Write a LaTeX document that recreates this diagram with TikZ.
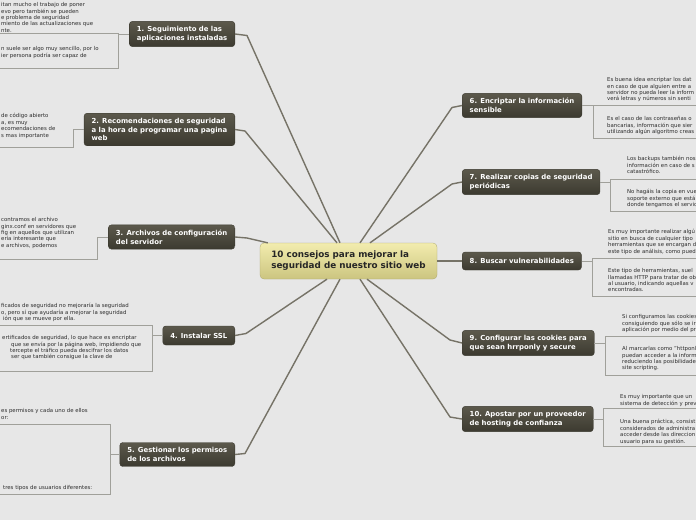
\documentclass[tikz,border=0pt]{standalone}
\usepackage{fontspec}
\setmainfont{DejaVu Sans}
\usetikzlibrary{positioning}
\definecolor{bgc}{RGB}{231,231,231}
\definecolor{topictop}{RGB}{92,89,76}
\definecolor{topicbot}{RGB}{60,58,48}
\definecolor{hubtop}{RGB}{242,236,174}
\definecolor{hubbot}{RGB}{204,197,128}
\definecolor{spokec}{RGB}{118,115,103}
\definecolor{twigc}{RGB}{160,160,154}
\definecolor{notec}{RGB}{45,45,45}

\begin{document}
\begin{tikzpicture}[
    x=1pt, y=-1pt,
    hub/.style={rounded corners=4pt, top color=hubtop, bottom color=hubbot, draw=hubbot!85!black, line width=0.3pt, text=black!85, font=\fontsize{8.8}{11}\selectfont\bfseries, align=left, minimum width=177pt, minimum height=36pt, inner xsep=10pt},
    topic/.style={rounded corners=3pt, top color=topictop, bottom color=topicbot, draw=topicbot, line width=0.4pt, text=white, font=\fontsize{6.9}{8.6}\selectfont\bfseries, align=left, inner xsep=7.5pt, inner ysep=5pt},
    note/.style={anchor=north west, inner sep=0pt, text=notec, font=\fontsize{5.4}{6.4}\selectfont, align=left},
    spoke/.style={draw=spokec, line width=1.4pt, line join=round},
    twig/.style={draw=twigc, line width=0.8pt}
]
    \useasboundingbox (0,0) rectangle (696,520);
    \fill[bgc] (0,0) rectangle (696,520);
    \clip (0,0) rectangle (696,520);

    \node[hub] (hub) at (348.5,261) {10 consejos para mejorar la\\seguridad de nuestro sitio web};

    \node[topic, anchor=east] (b1) at (235,34) {1. Seguimiento de las\\aplicaciones instaladas};
    \node[topic, anchor=east] (b2) at (235,129.5) {2. Recomendaciones de seguridad\\a la hora de programar una pagina\\web};
    \node[topic, anchor=east] (b3) at (235,237) {3. Archivos de configuración\\del servidor};
    \node[topic, anchor=east, minimum height=19pt] (b4) at (235,335.5) {4. Instalar SSL};
    \node[topic, anchor=east] (b5) at (235,454.5) {5. Gestionar los permisos\\de los archivos};
    \node[topic, anchor=west] (b6) at (462,105.5) {6. Encriptar la información\\sensible};
    \node[topic, anchor=west] (b7) at (462,182) {7. Realizar copias de seguridad\\periódicas};
    \node[topic, anchor=west, minimum height=18pt] (b8) at (462,261) {8. Buscar vulnerabilidades};
    \node[topic, anchor=west] (b9) at (462,343) {9. Configurar las cookies para\\que sean hrrponly y secure};
    \node[topic, anchor=west] (b10) at (462,419) {10. Apostar por un proveedor\\de hosting de confianza};

    \node[note] (l1a) at (1,2.4) {itan mucho el trabajo de poner\\evo pero también se pueden\\e problema de seguridad\\miento de las actualizaciones que\\nte.};
    \node[note] (l1b) at (1,46.4) {n suele ser algo muy sencillo, por lo\\ier persona podría ser capaz de};
    \node[note] (l2) at (1,113.4) {de código abierto\\a, es muy\\ecomendaciones de\\s mas importante};
    \node[note] (l3) at (1,217.4) {contramos el archivo\\ginx.conf en servidores que\\fig en aquellos que utilizan\\ería interesante que\\e archivos, podemos};
    \node[note] (l4a) at (1,303.4) {ficados de seguridad no mejoraría la seguridad\\o, pero sí que ayudaría a mejorar la seguridad\\\hspace*{2pt}ión que se mueve por ella.};
    \node[note] (l4b) at (2,335.4) {ertificados de seguridad, lo que hace es encriptar\\\hspace*{9pt}que se envía por la página web, impidiendo que\\\hspace*{8pt}tercepte el tráfico pueda descifrar los datos\\\hspace*{9pt}ser que también consigue la clave de};
    \node[note] (l5a) at (1,408.4) {es permisos y cada uno de ellos\\or:};
    \node[note] (l5b) at (3,485.4) {tres tipos de usuarios diferentes:};

    \node[note] (r6a) at (607,77.4) {Es buena idea encriptar los dat\\en caso de que alguien entre a\\servidor no pueda leer la inform\\verá letras y números sin senti};
    \node[note] (r6b) at (607,116.4) {Es el caso de las contraseñas o\\bancarias, información que sier\\utilizando algún algoritmo creas};
    \node[note] (r7a) at (627,156.4) {Los backups también nos\\información en caso de s\\catastrófico.};
    \node[note] (r7b) at (627,189.4) {No hagáis la copia en vue\\soporte externo que está\\donde tengamos el servic};
    \node[note] (r8a) at (608,229.4) {Es muy importante realizar algú\\sitio en busca de cualquier tipo\\herramientas que se encargan d\\este tipo de análisis, como pued};
    \node[note] (r8b) at (608,268.4) {Este tipo de herramientas, suel\\llamadas HTTP para tratar de ob\\al usuario, indicando aquellas v\\encontradas.};
    \node[note] (r9a) at (622,314.4) {Si configuramos las cookies\\consiguiendo que sólo se ir\\aplicación por medio del pr};
    \node[note] (r9b) at (622,346.4) {Al marcarlas como "httponl\\puedan acceder a la inform\\reduciendo las posibilidade\\site scripting.};
    \node[note] (r10a) at (620,394.4) {Es muy importante que un\\sistema de detección y prev};
    \node[note] (r10b) at (620,419.4) {Una buena práctica, consist\\considerados de administra\\acceder desde las direccion\\usuario para su gestión.};

    \coordinate (f1) at (118,33);
    \coordinate (f2) at (73,147);
    \coordinate (f3) at (97,259);
    \coordinate (f4) at (152,325);
    \coordinate (f5) at (110,424);
    \coordinate (f6) at (593,105);
    \coordinate (f7) at (610,179);
    \coordinate (f8) at (592,258);
    \coordinate (f9) at (605,336);
    \coordinate (f10) at (603,408);

    \draw[twig] (-5,33) -- (f1) -- (118,68) -- (-5,68);
    \draw[twig] (-5,147) -- (f2) |- (b2.west);
    \draw[twig] (-5,259) -- (f3) |- (b3.west);
    \draw[twig] (-5,325) -- (f4) -- (152,371) -- (-5,371);
    \draw[twig] (-5,424) -- (f5) -- (110,494) -- (-5,494);
    \draw[twig] (701,105) -- (f6) -- (593,138) -- (701,138);
    \draw[twig] (701,179) -- (f7) -- (610,211) -- (701,211);
    \draw[twig] (701,258) -- (f8) -- (592,296) -- (701,296);
    \draw[twig] (701,336) -- (f9) -- (605,375) -- (701,375);
    \draw[twig] (701,408) -- (f10) -- (603,446) -- (701,446);
    \draw[twig] (b1.west) -- (b1.west -| f1);
    \draw[twig] (b4.west) -- (b4.west -| f4);
    \draw[twig] (b5.west) -- (b5.west -| f5);
    \draw[twig] (b6.east) -- (b6.east -| f6);
    \draw[twig] (b7.east) -- (b7.east -| f7);
    \draw[twig] (b8.east) -- (b8.east -| f8);
    \draw[twig] (b9.east) -- (b9.east -| f9);
    \draw[twig] (b10.east) -- (b10.east -| f10);

    \draw[spoke] (b1.east) -- ++(12,1.5) -- ([xshift=-8.5pt]hub.north);
    \draw[spoke] (b2.east) -- ++(10,1.5) -- ([xshift=-11.5pt]hub.north);
    \draw[spoke] (b3.east) -- ++(12,1) -- ([xshift=8pt]hub.north west);
    \draw[spoke] (b4.east) -- ++(11,-2) -- ([xshift=-21.5pt]hub.south);
    \draw[spoke] (b5.east) -- ++(10,-1) -- ([xshift=-8.5pt]hub.south);
    \draw[spoke] (b6.west) -- ++(-10,2) -- ([xshift=11.5pt]hub.north);
    \draw[spoke] (b7.west) -- ++(-10,2) -- ([xshift=21.5pt]hub.north);
    \draw[spoke] (b8.west) -- (hub.east);
    \draw[spoke] (b9.west) -- ++(-12,-3) -- ([xshift=18.5pt]hub.south);
    \draw[spoke] (b10.west) -- ++(-12,-2) -- ([xshift=11.5pt]hub.south);
\end{tikzpicture}
\end{document}
